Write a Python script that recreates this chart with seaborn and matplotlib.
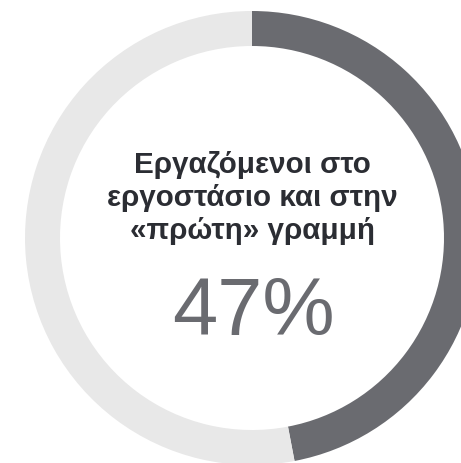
import matplotlib
matplotlib.use("Agg")
import matplotlib.pyplot as plt
import seaborn as sns

# Data
categories = ["Εργαζόμενοι στο εργοστάσιο και στην «πρώτη» γραμμή", "Υπόλοιποι"]
values = [47, 53]
title_lines = ["Εργαζόμενοι στο", "εργοστάσιο και στην", "«πρώτη» γραμμή"]
value_label = "47%"

sns.set_theme(style="white")
plt.rcParams['font.family'] = ['Liberation Sans', 'DejaVu Sans']

colors = ["#6a6b70", "#e8e8e8"]

W, H = 461, 464
fig = plt.figure(figsize=(W / 100, H / 100), dpi=100)
ax = fig.add_axes([0, 0, 1, 1])

cx, cy = 252, H - 239
R = 227
ax.pie(values, colors=colors, startangle=90, counterclock=False,
       center=(cx, cy), radius=R, frame=True,
       wedgeprops=dict(width=35, linewidth=0))
ax.set_xlim(0, W)
ax.set_ylim(0, H)
ax.set_aspect("equal")
ax.axis("off")

ys = [H - 173, H - 206, H - 239]
for line, y in zip(title_lines, ys):
    ax.text(cx, y, line, ha="center", va="baseline", fontsize=21.3,
            fontweight="bold", color="#2b2d33")
ax.text(cx + 1, H - 335, value_label, ha="center", va="baseline",
        fontsize=58.5, color="#6a6b70")

fig.savefig("out.png", dpi=100)
